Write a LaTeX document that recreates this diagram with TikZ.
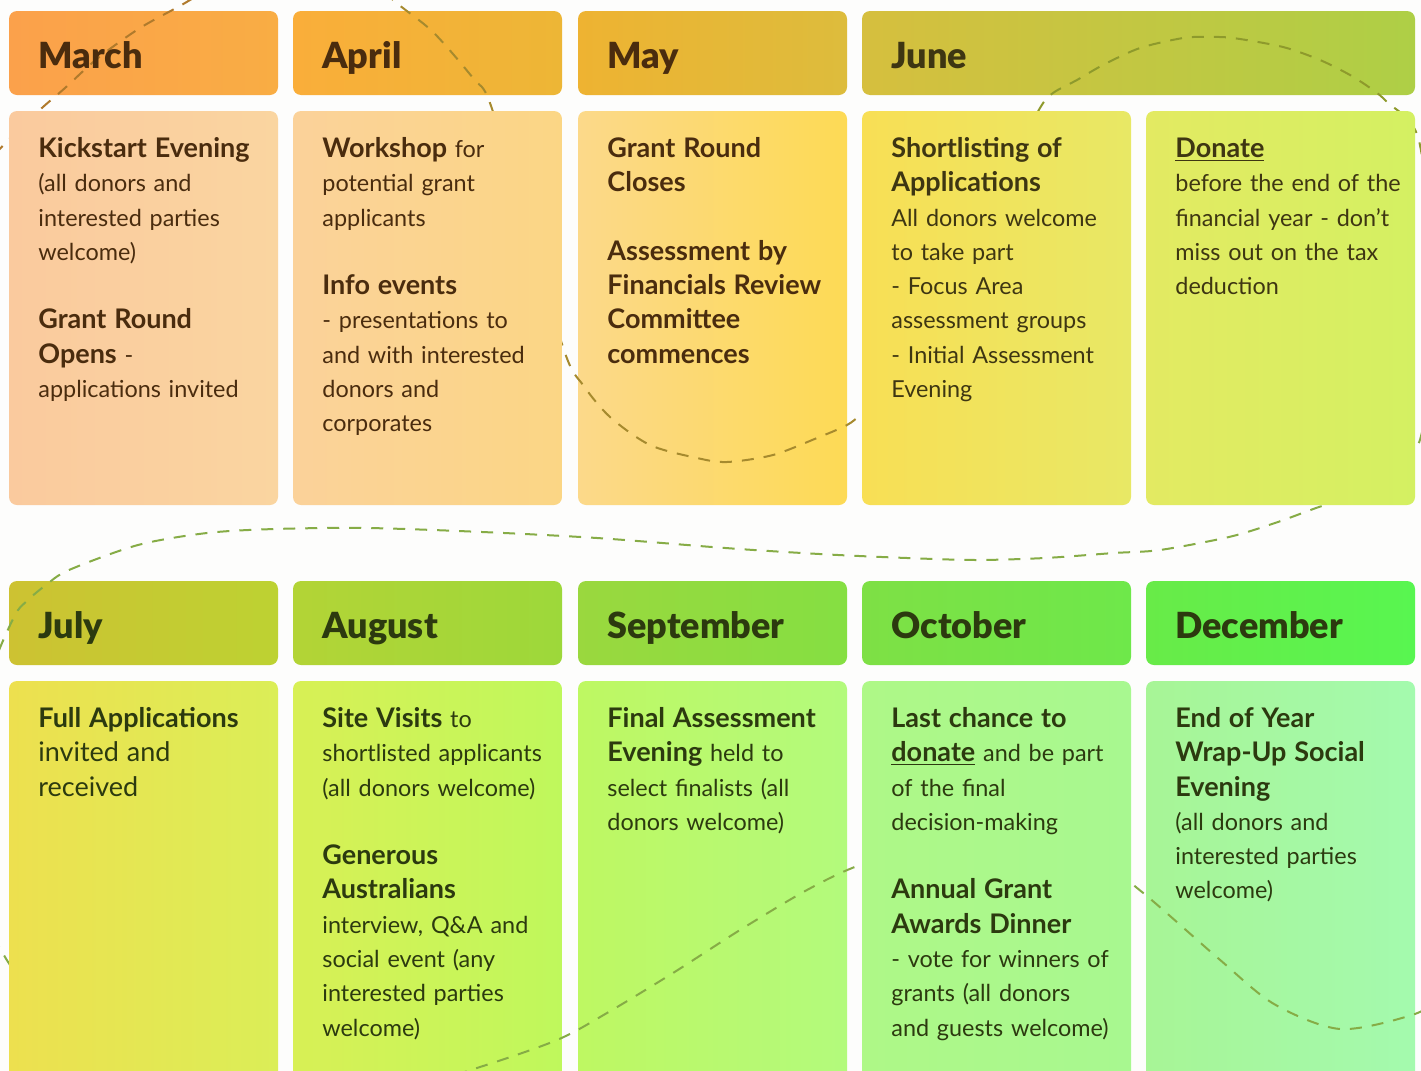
\documentclass[tikz,border=0pt]{standalone}
\usepackage{fontspec}
\setmainfont{Lato}
\newfontfamily\heavy{Lato Black}

\definecolor{bgcol}{HTML}{FDFDFC}
%% headers
\definecolor{marA}{HTML}{FBA14B}\definecolor{marB}{HTML}{F9AD44}
\definecolor{aprA}{HTML}{FAAE3A}\definecolor{aprB}{HTML}{EDB636}
\definecolor{mayA}{HTML}{EEB332}\definecolor{mayB}{HTML}{DDBC3C}
\definecolor{junA}{HTML}{D6BF3E}\definecolor{junB}{HTML}{AECF46}
\definecolor{julA}{HTML}{CDC232}\definecolor{julB}{HTML}{BDD232}
\definecolor{augA}{HTML}{B3D436}\definecolor{augB}{HTML}{9DD83A}
\definecolor{sepA}{HTML}{9AD83E}\definecolor{sepB}{HTML}{85DF42}
\definecolor{octA}{HTML}{7EE045}\definecolor{octB}{HTML}{6EE84A}
\definecolor{decA}{HTML}{68EB48}\definecolor{decB}{HTML}{58F650}
%% bodies
\definecolor{bmarA}{HTML}{FACA9E}\definecolor{bmarB}{HTML}{FAD5A0}
\definecolor{baprA}{HTML}{FBD29A}\definecolor{baprB}{HTML}{FBD685}
\definecolor{bmayA}{HTML}{FCD98A}\definecolor{bmayB}{HTML}{FDDA55}
\definecolor{bjunA}{HTML}{F8DF55}\definecolor{bjunB}{HTML}{E8E865}
\definecolor{bdonA}{HTML}{E3EA62}\definecolor{bdonB}{HTML}{D4F062}
\definecolor{bjulA}{HTML}{EDE04F}\definecolor{bjulB}{HTML}{DBEE57}
\definecolor{baugA}{HTML}{D8F055}\definecolor{baugB}{HTML}{BFF85C}
\definecolor{bsepA}{HTML}{BEF862}\definecolor{bsepB}{HTML}{B3FA7C}
\definecolor{boctA}{HTML}{AEF887}\definecolor{boctB}{HTML}{A8F890}
\definecolor{bdecA}{HTML}{A7F596}\definecolor{bdecB}{HTML}{A4FAAE}
%% text and dashes
\definecolor{brownT}{HTML}{4A2C0E}
\definecolor{oliveT}{HTML}{3E3612}
\definecolor{greenT}{HTML}{2C3A0F}
\definecolor{dashA}{HTML}{B07A2C}
\definecolor{dashB}{HTML}{A68A2E}
\definecolor{dashC}{HTML}{8E9A2C}
\definecolor{dashD}{HTML}{86AC46}

\newcommand{\hb}[1]{{\fontsize{13.5}{17.15}\selectfont\bfseries #1}}

\tikzset{
  hdr/.style={rounded corners=4pt, minimum width=134.5pt, minimum height=42pt, inner sep=0pt},
  bdy/.style={rounded corners=4pt, minimum width=134.5pt, minimum height=197pt, inner sep=0pt},
  bdylow/.style={bdy, minimum height=205pt},
  mon/.style={anchor=base west, inner sep=0pt, font=\fontsize{18}{22}\selectfont\heavy},
  txt/.style={anchor=north west, inner sep=0pt, text width=135pt, align=left,
    font=\fontsize{11.7}{17.15}\selectfont},
  wave/.style={dash pattern=on 6pt off 5pt, line width=1pt}
}

\begin{document}
\begin{tikzpicture}[x=0.5pt,y=-0.5pt]
	\clip (0,0) rectangle (1421,1071);
	\fill[bgcol] (0,0) rectangle (1421,1071);

	%% header row, top
	\node[hdr, left color=marA, right color=marB] (hmar) at (143.5,53) {};
	\node[hdr, left color=aprA, right color=aprB] (hapr) at (427.5,53) {};
	\node[hdr, left color=mayA, right color=mayB] (hmay) at (712.5,53) {};
	\node[hdr, minimum width=276.5pt, left color=junA, right color=junB] (hjun) at (1138.5,53) {};
	%% header row, bottom
	\node[hdr, left color=julA, right color=julB] (hjul) at (143.5,623) {};
	\node[hdr, left color=augA, right color=augB] (haug) at (427.5,623) {};
	\node[hdr, left color=sepA, right color=sepB] (hsep) at (712.5,623) {};
	\node[hdr, left color=octA, right color=octB] (hoct) at (996.5,623) {};
	\node[hdr, left color=decA, right color=decB] (hdec) at (1280.5,623) {};

	%% bodies the wave shows through
	\node[bdy, left color=bmayA, right color=bmayB] (bmay) at (712.5,308) {};
	\node[bdylow, left color=baugA, right color=baugB] (baug) at (427.5,886) {};
	\node[bdylow, left color=bsepA, right color=bsepB] (bsep) at (712.5,886) {};
	\node[bdylow, left color=bdecA, right color=bdecB] (bdec) at (1280.5,886) {};

	%% the dashed wave
	\draw[wave, dashA] plot[smooth] coordinates {(230,-25) (185,3) (140,28) (98,58) (65,88) (43,107) (15,133) (-15,165)};
	\draw[wave, dashB] plot[smooth] coordinates {(370,-25) (393,0) (433,32) (473,78) (490,103) (525,220) (565,353) (583,385) (610,417) (650,445) (697,458) (727,462) (773,455) (817,438) (847,425) (862,413) (900,375) (960,270)};
	\draw[wave, dashC] plot[smooth] coordinates {(960,270) (1010,165) (1040,108) (1053,93) (1077,80) (1103,65) (1140,48) (1183,38) (1207,37) (1233,38) (1283,47) (1320,60) (1350,75) (1373,90) (1387,102) (1418,137) (1432,250) (1430,300)};
	\draw[wave, dashD] plot[smooth] coordinates {(1430,300) (1428,380) (1418,445) (1380,485) (1316,508) (1275,523) (1229,537) (1160,550) (1114,553) (1045,558) (976,560) (907,558) (838,555) (769,551) (712,547) (597,538) (482,532) (367,528) (275,529) (207,533) (138,545) (69,570) (46,585) (28,600) (14,617) (-12,680) (-40,790) (-20,900) (5,957) (40,1000) (120,1060) (260,1110) (400,1090) (480,1067) (557,1040) (607,1013) (673,973) (740,930) (807,890) (860,865) (940,842) (1020,838) (1090,855) (1142,892) (1219,959) (1274,1004) (1340,1029) (1412,1015) (1450,995)};

	%% bodies that cover the wave
	\node[bdy, left color=bmarA, right color=bmarB] (bmar) at (143.5,308) {};
	\node[bdy, left color=baprA, right color=baprB] (bapr) at (427.5,308) {};
	\node[bdy, left color=bjunA, right color=bjunB] (bjun) at (996.5,308) {};
	\node[bdy, left color=bdonA, right color=bdonB] (bdon) at (1280.5,308) {};
	\node[bdylow, left color=bjulA, right color=bjulB] (bjul) at (143.5,886) {};
	\node[bdylow, left color=boctA, right color=boctB] (boct) at (996.5,886) {};

	%% month names
	\node[mon, brownT] (lmar) at (38,68) {March};
	\node[mon, brownT] (lapr) at (322,68) {April};
	\node[mon, brownT] (lmay) at (607,68) {May};
	\node[mon, oliveT] (ljun) at (891,68) {June};
	\node[mon, greenT] (ljul) at (38,638) {July};
	\node[mon, greenT] (laug) at (322,638) {August};
	\node[mon, greenT] (lsep) at (607,638) {September};
	\node[mon, greenT] (loct) at (891,638) {October};
	\node[mon, greenT] (ldec) at (1175,638) {December};

	%% events, top row
	\node[txt, brownT] (tmar) at (38,133) {\strut\hb{Kickstart Evening}\\ (all donors and\\ interested parties\\ welcome)\\[17.15pt] \hb{Grant Round}\\ \hb{Opens} -\\ applications invited};
	\node[txt, brownT] (tapr) at (322,133) {\strut\hb{Workshop} for\\ potential grant\\ applicants\\[17.15pt] \hb{Info events}\\ - presentations to\\ and with interested\\ donors and\\ corporates};
	\node[txt, brownT] (tmay) at (607,133) {\strut\hb{Grant Round}\\ \hb{Closes}\\[17.15pt] \hb{Assessment by}\\ \hb{Financials Review}\\ \hb{Committee}\\ \hb{commences}};
	\node[txt, oliveT] (tjun) at (891,133) {\strut\hb{Shortlisting of}\\ \hb{Applications}\\ All donors welcome\\ to take part\\ - Focus Area\\ assessment groups\\ - Initial Assessment\\ Evening};
	\node[txt, oliveT] (tdon) at (1175,133) {\strut\underline{\hb{Donate}}\\ before the end of the\\ financial year - don't\\ miss out on the tax\\ deduction};

	%% events, bottom row
	\node[txt, greenT] (tjul) at (38,703) {\strut\hb{Full Applications}\\ \fontsize{13.5}{17.15}\selectfont invited and\\ received};
	\node[txt, greenT] (taug) at (322,703) {\strut\hb{Site Visits} to\\ shortlisted applicants\\ (all donors welcome)\\[17.15pt] \hb{Generous}\\ \hb{Australians}\\ interview, Q\&A and\\ social event (any\\ interested parties\\ welcome)};
	\node[txt, greenT] (tsep) at (607,703) {\strut\hb{Final Assessment}\\ \hb{Evening} held to\\ select finalists (all\\ donors welcome)};
	\node[txt, greenT] (toct) at (891,703) {\strut\hb{Last chance to}\\ \underline{\hb{donate}} and be part\\ of the final\\ decision-making\\[17.15pt] \hb{Annual Grant}\\ \hb{Awards Dinner}\\ - vote for winners of\\ grants (all donors\\ and guests welcome)};
	\node[txt, greenT] (tdec) at (1175,703) {\strut\hb{End of Year}\\ \hb{Wrap-Up Social}\\ \hb{Evening}\\ (all donors and\\ interested parties\\ welcome)};
\end{tikzpicture}
\end{document}
